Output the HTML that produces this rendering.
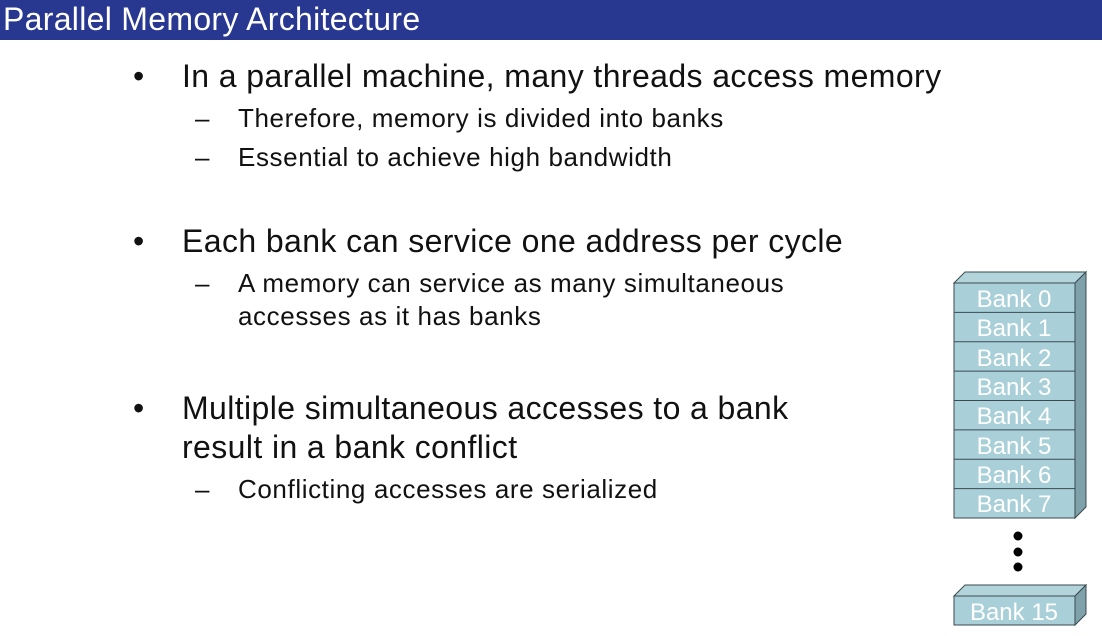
<!DOCTYPE html>
<html><head><style>
body{margin:0;width:1102px;height:636px;background:#fff;position:relative;overflow:hidden;font-family:"Liberation Sans",Arial,sans-serif;}
.bar{position:absolute;left:0;top:0;width:1102px;height:40px;background:#283891;}
.title{position:absolute;left:3px;top:2px;color:#fff;font-size:32px;line-height:34px;letter-spacing:0.3px;}
.t{position:absolute;white-space:nowrap;color:#111;}
.b{font-size:32px;line-height:34px;letter-spacing:0.4px;}
.s{font-size:26px;line-height:30px;letter-spacing:0.6px;}
</style></head><body>
<div class="bar"></div><div class="title">Parallel Memory Architecture</div>

<div class="t b" style="left:133px;top:59px">•</div>
<div class="t b" style="left:182px;top:59px">In a parallel machine, many threads access memory</div>
<div class="t s" style="left:195px;top:103px">–</div>
<div class="t s" style="left:238px;top:103px">Therefore, memory is divided into banks</div>
<div class="t s" style="left:195px;top:142px">–</div>
<div class="t s" style="left:238px;top:142px">Essential to achieve high bandwidth</div>

<div class="t b" style="left:133px;top:224px">•</div>
<div class="t b" style="left:182px;top:224px">Each bank can service one address per cycle</div>
<div class="t s" style="left:195px;top:268px">–</div>
<div class="t s" style="left:238px;top:268px">A memory can service as many simultaneous</div>
<div class="t s" style="left:238px;top:301px">accesses as it has banks</div>

<div class="t b" style="left:133px;top:391px">•</div>
<div class="t b" style="left:182px;top:391px">Multiple simultaneous accesses to a bank</div>
<div class="t b" style="left:182px;top:430px">result in a bank conflict</div>
<div class="t s" style="left:195px;top:474px">–</div>
<div class="t s" style="left:238px;top:474px">Conflicting accesses are serialized</div>

<svg style="position:absolute;left:0;top:0" width="1102" height="636">
<g stroke="#3a4a50" stroke-width="1">
<polygon points="954,283 965,272 1086,272 1075,283" fill="#b3d4da"/>
<polygon points="1075,283 1086,272 1086,507 1075,518" fill="#7fa2aa"/>
<rect x="954" y="283" width="121" height="235" fill="#a9d0d8"/>
<line x1="954" y1="312.4" x2="1075" y2="312.4"/><line x1="954" y1="341.8" x2="1075" y2="341.8"/>
<line x1="954" y1="371.1" x2="1075" y2="371.1"/><line x1="954" y1="400.5" x2="1075" y2="400.5"/>
<line x1="954" y1="429.9" x2="1075" y2="429.9"/><line x1="954" y1="459.3" x2="1075" y2="459.3"/>
<line x1="954" y1="488.6" x2="1075" y2="488.6"/>
<polygon points="954,596 965,585 1086,585 1075,596" fill="#b3d4da"/>
<polygon points="1075,596 1086,585 1086,614 1075,625" fill="#7fa2aa"/>
<rect x="954" y="596" width="121" height="29" fill="#a9d0d8"/>
</g>
<g fill="#fff" font-family="Liberation Sans,Arial,sans-serif" font-size="24" text-anchor="middle">
<text x="1014" y="307">Bank 0</text><text x="1014" y="336">Bank 1</text>
<text x="1014" y="366">Bank 2</text><text x="1014" y="395">Bank 3</text>
<text x="1014" y="424">Bank 4</text><text x="1014" y="454">Bank 5</text>
<text x="1014" y="483">Bank 6</text><text x="1014" y="512">Bank 7</text>
<text x="1014" y="620">Bank 15</text>
</g>
<circle cx="1018" cy="536" r="4.5" fill="#000"/>
<circle cx="1018" cy="552" r="4.5" fill="#000"/>
<circle cx="1018" cy="567" r="4.5" fill="#000"/>
</svg>
</body></html>
